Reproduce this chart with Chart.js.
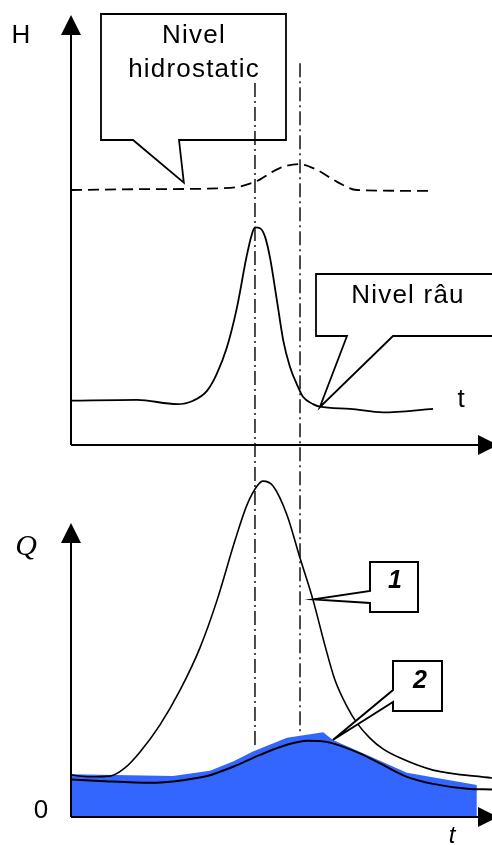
<!DOCTYPE html>
<html>
<head>
<meta charset="utf-8">
<script src="https://cdn.jsdelivr.net/npm/chart.js@4/dist/chart.umd.min.js"></script>
<style>
  html, body { margin: 0; padding: 0; background: #fff; }
  #wrap { position: relative; width: 492px; height: 845px; }
</style>
</head>
<body>
<div id="wrap"><canvas id="flowChart"></canvas></div>
<script>
// upper panel: river level H(t), solid line
const tRiver = [0, 15.7, 25.2, 29.0, 32.3, 34.6, 37.0, 39.4, 41.7, 42.9, 43.7, 44.9, 46.1, 47.3, 48.9, 50.4, 52.0, 53.7, 55.1, 57.5, 59.1, 66.3, 74.1, 86.0];
const hRiver = [1.03, 1.05, 0.95, 1.03, 1.26, 1.65, 2.26, 3.19, 4.38, 4.88, 5.06, 5.04, 4.84, 4.34, 3.37, 2.44, 1.82, 1.40, 1.12, 0.95, 0.89, 0.84, 0.76, 0.84];

// upper panel: hydrostatic level, dashed line
const tHydro = [0, 18.8, 37.8, 43.7, 49.6, 54.2, 58.4, 63.2, 67.9, 85.3];
const hHydro = [5.93, 5.95, 5.98, 6.12, 6.44, 6.53, 6.40, 6.12, 5.93, 5.91];

// lower panel: curve 1 (flood discharge)
const tFlood = [0, 4.5, 9.3, 12.8, 16.4, 21.1, 25.9, 30.6, 34.7, 39.0, 41.8, 44.2, 45.6, 48.0, 51.3, 54.4, 57.5, 60.3, 62.7, 65.6, 67.9, 71.0, 74.1, 78.1, 86.0, 100];
const qFlood = [1.13, 1.08, 1.10, 1.32, 1.75, 2.47, 3.41, 4.54, 5.83, 7.45, 8.39, 8.90, 9.03, 8.90, 8.12, 6.96, 5.83, 4.62, 3.68, 2.96, 2.53, 2.12, 1.83, 1.59, 1.26, 1.05];

// lower panel: curve 2 (underground flow)
const tBase = [0, 6.9, 18.8, 26.6, 32.3, 38.5, 44.9, 51.3, 56.1, 59.1, 62.2, 68.6, 74.1, 79.8, 86.0, 94.1, 100];
const qBase = [1.01, 0.97, 0.92, 0.99, 1.10, 1.35, 1.67, 1.94, 2.05, 2.04, 1.98, 1.71, 1.40, 1.08, 0.89, 0.76, 0.74];

// lower panel: blue area
const tArea = [0, 24.2, 33.0, 38.5, 43.2, 51.3, 59.9, 62.2, 70.3, 79.8, 96.4];
const qArea = [1.15, 1.10, 1.24, 1.49, 1.76, 2.13, 2.28, 2.07, 1.67, 1.19, 0.86];

// dash-dot markers: time, top end (H units), bottom end (Q units)
const markerT = [43.7, 54.4];
const markerTopH = [8.42, 8.88];
const markerBottomQ = [1.85, 2.2];

const toPoints = (xs, ys) => xs.map((v, i) => ({ x: v, y: ys[i] }));

function arrowUp(ctx, cx, tipY) {
    ctx.beginPath();
    ctx.moveTo(cx, tipY);
    ctx.lineTo(cx - 10, tipY + 20);
    ctx.lineTo(cx + 10, tipY + 20);
    ctx.closePath();
    ctx.fill();
}

function arrowRight(ctx, tipX, cy) {
    ctx.beginPath();
    ctx.moveTo(tipX, cy);
    ctx.lineTo(tipX - 20, cy - 10);
    ctx.lineTo(tipX - 20, cy + 10);
    ctx.closePath();
    ctx.fill();
}

function line(ctx, x1, y1, x2, y2) {
    ctx.beginPath();
    ctx.moveTo(x1, y1);
    ctx.lineTo(x2, y2);
    ctx.stroke();
}

// callout box with a pointer; tail on the bottom edge or on the left edge
function callout(ctx, box, tip) {
    ctx.beginPath();
    ctx.moveTo(box.l, box.t);
    ctx.lineTo(box.r, box.t);
    ctx.lineTo(box.r, box.b);
    if (box.side === 'bottom') {
        ctx.lineTo(box.a2, box.b);
        ctx.lineTo(tip.x, tip.y);
        ctx.lineTo(box.a1, box.b);
        ctx.lineTo(box.l, box.b);
    } else {
        ctx.lineTo(box.l, box.b);
        ctx.lineTo(box.l, box.a2);
        ctx.lineTo(tip.x, tip.y);
        ctx.lineTo(box.l, box.a1);
    }
    ctx.closePath();
    ctx.fillStyle = '#fff';
    ctx.fill();
    ctx.stroke();
}

const overlay = {
    id: 'overlay',
    afterDatasetsDraw(chart) {
        const ctx = chart.ctx;
        const xs = chart.scales.x;
        const yH = chart.scales.yH;
        const yQ = chart.scales.yQ;
        const x0 = xs.getPixelForValue(0);
        const hBase = yH.getPixelForValue(0);
        const qBase0 = yQ.getPixelForValue(0);
        ctx.save();
        ctx.strokeStyle = '#000';
        ctx.fillStyle = '#000';

        // axes
        ctx.lineWidth = 2;
        line(ctx, x0, yH.getPixelForValue(10) + 10, x0, hBase);
        line(ctx, x0, hBase, xs.right - 10, hBase);
        arrowUp(ctx, x0, yH.getPixelForValue(10));
        arrowRight(ctx, xs.right + 6, hBase);
        const qTop = yQ.getPixelForValue(7.9);
        line(ctx, x0, qTop + 10, x0, qBase0);
        line(ctx, x0, qBase0, xs.right - 10, qBase0);
        arrowUp(ctx, x0, qTop);
        arrowRight(ctx, xs.right + 6, qBase0);

        // callouts
        ctx.lineWidth = 1.8;
        ctx.lineJoin = 'miter';
        callout(ctx, { l: 101, t: 14, r: 286, b: 140, side: 'bottom', a1: 133, a2: 179 },
            { x: xs.getPixelForValue(26.8), y: yH.getPixelForValue(6.1) });
        callout(ctx, { l: 316, t: 274, r: 505, b: 336, side: 'bottom', a1: 347, a2: 393 },
            { x: xs.getPixelForValue(59.1), y: yH.getPixelForValue(0.88) });
        ctx.lineWidth = 2;
        callout(ctx, { l: 370, t: 562, r: 418, b: 612, side: 'left', a1: 591, a2: 603 },
            { x: xs.getPixelForValue(57.7), y: yQ.getPixelForValue(5.85) });
        callout(ctx, { l: 393, t: 661, r: 442, b: 711, side: 'left', a1: 690, a2: 702 },
            { x: xs.getPixelForValue(62.2), y: yQ.getPixelForValue(2.07) });

        // dash-dot markers crossing both panels
        ctx.lineWidth = 1.4;
        ctx.setLineDash([14, 4, 2, 4]);
        markerT.forEach((t, i) => {
            const px = xs.getPixelForValue(t);
            line(ctx, px, yH.getPixelForValue(markerTopH[i]), px, yQ.getPixelForValue(markerBottomQ[i]));
        });
        ctx.setLineDash([]);

        // texts
        ctx.fillStyle = '#000';
        ctx.textAlign = 'center';
        ctx.textBaseline = 'alphabetic';
        ctx.font = '26px "Liberation Sans", Arial, sans-serif';
        ctx.letterSpacing = '1.2px';
        ctx.fillText('Nivel', 194, 43);
        ctx.fillText('hidrostatic', 194, 77);
        ctx.fillText('Nivel râu', 408, 303);
        ctx.letterSpacing = '0px';
        ctx.fillText('H', 21, 43);
        ctx.fillText('t', 461, 407);
        ctx.fillText('0', 41, 818);
        ctx.font = 'italic bold 25px "Liberation Sans", Arial, sans-serif';
        ctx.fillText('1', 395, 588);
        ctx.fillText('2', 420, 688);
        ctx.font = 'italic 24px "Liberation Sans", Arial, sans-serif';
        ctx.fillText('t', 452, 843);
        ctx.font = 'italic 30px "Liberation Serif", "Times New Roman", serif';
        ctx.fillText('Q', 26, 555);
        ctx.restore();
    }
};

const ctx = document.getElementById('flowChart').getContext('2d');
const flowChart = new Chart(ctx, {
    type: 'line',
    data: {
        datasets: [
            {
                label: 'hydrostatic',
                data: toPoints(tHydro, hHydro),
                yAxisID: 'yH',
                borderColor: '#000',
                borderWidth: 1.8,
                borderDash: [11, 6],
                cubicInterpolationMode: 'monotone',
            },
            {
                label: 'river',
                data: toPoints(tRiver, hRiver),
                yAxisID: 'yH',
                borderColor: '#000',
                borderWidth: 1.8,
                cubicInterpolationMode: 'monotone',
            },
            {
                label: '1',
                data: toPoints(tFlood, qFlood),
                yAxisID: 'yQ',
                borderColor: '#000',
                borderWidth: 1.6,
                cubicInterpolationMode: 'monotone',
            },
            {
                label: '2',
                data: toPoints(tBase, qBase),
                yAxisID: 'yQ',
                borderColor: '#000',
                borderWidth: 2,
                cubicInterpolationMode: 'monotone',
            },
            {
                label: 'area',
                data: toPoints(tArea, qArea),
                yAxisID: 'yQ',
                backgroundColor: '#3366ff',
                borderWidth: 0,
                tension: 0,
                fill: 'origin',
            },
        ],
    },
    options: {
        responsive: true,
        maintainAspectRatio: false,
        animation: false,
        layout: { padding: { left: 71, top: 15, right: 0, bottom: 28 } },
        elements: { point: { radius: 0 } },
        plugins: {
            legend: { display: false },
            tooltip: { enabled: false },
        },
        scales: {
            x: { type: 'linear', min: 0, max: 100, display: false },
            yQ: { type: 'linear', min: 0, max: 10, display: false, stack: 'panels', stackWeight: 372, weight: 1 },
            yH: { type: 'linear', min: 0, max: 10, display: false, stack: 'panels', stackWeight: 430, weight: 2 },
        },
    },
    plugins: [overlay],
});
</script>
</body>
</html>
